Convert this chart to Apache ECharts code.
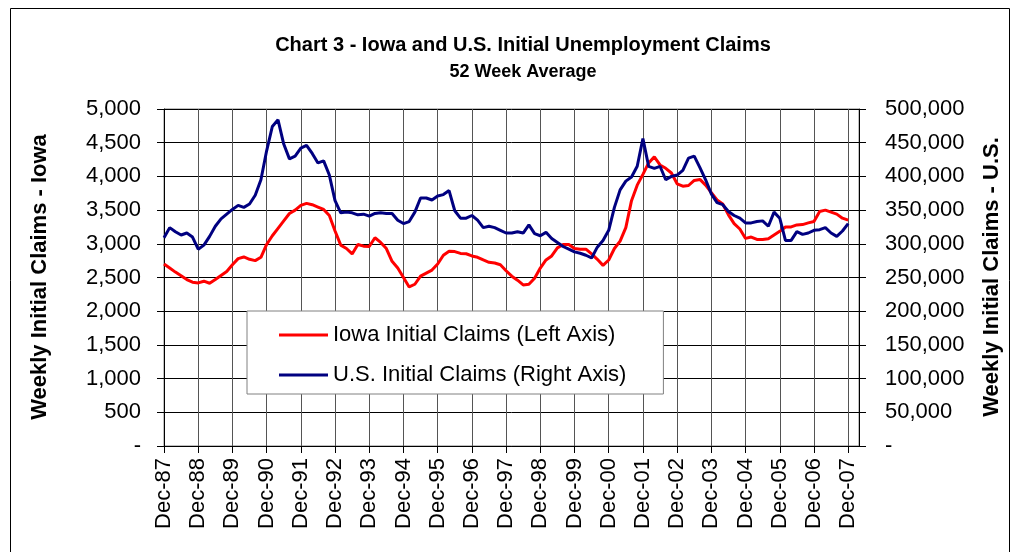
<!DOCTYPE html>
<html>
<head>
<meta charset="utf-8">
<title>Chart 3 - Iowa and U.S. Initial Unemployment Claims</title>
<script src="https://cdn.jsdelivr.net/npm/echarts@6/dist/echarts.min.js"></script>
<style>
  html, body { margin: 0; padding: 0; background: #fff; }
  #chart { width: 1019px; height: 552px; }
</style>
</head>
<body>
<div id="chart"></div>
<script>
// 52 week averages, every 2 months starting Dec-87
const monthStep = 2
const xLabels = ['Dec-87', 'Dec-88', 'Dec-89', 'Dec-90', 'Dec-91', 'Dec-92', 'Dec-93', 'Dec-94',
  'Dec-95', 'Dec-96', 'Dec-97', 'Dec-98', 'Dec-99', 'Dec-00', 'Dec-01', 'Dec-02', 'Dec-03',
  'Dec-04', 'Dec-05', 'Dec-06', 'Dec-07']

const iowaClaims = [
  2700, 2640, 2580, 2525, 2470, 2430, 2420, 2445, 2415, 2470, 2530, 2590,
  2690, 2780, 2805, 2770, 2750, 2800, 2990, 3120, 3230, 3340, 3450, 3500,
  3570, 3600, 3580, 3545, 3510, 3420, 3190, 2980, 2930, 2850, 2990, 2965,
  2960, 3090, 3020, 2930, 2740, 2640, 2500, 2360, 2400, 2520, 2565, 2610,
  2700, 2830, 2890, 2885, 2857, 2852, 2820, 2800, 2760, 2725, 2715, 2690,
  2600, 2520, 2460, 2390, 2400, 2490, 2640, 2760, 2820, 2940, 2990, 2990,
  2930, 2920, 2920, 2850, 2770, 2680, 2760, 2930, 3040, 3240, 3640, 3870,
  4030, 4200, 4290, 4170, 4120, 4050, 3890, 3855, 3865, 3940, 3955, 3870,
  3760, 3650, 3590, 3430, 3300, 3220, 3080, 3100, 3064, 3064, 3075, 3130,
  3185, 3250, 3250, 3280, 3285, 3310, 3330, 3480, 3500, 3470, 3440, 3380,
  3350
]

const usClaims = [
  309000, 324000, 318000, 313000, 316000, 310000, 292000, 298000, 311000, 326000, 337000, 344000,
  351000, 357000, 354000, 359000, 372000, 395000, 438000, 474000, 484000, 448000, 426000, 430000,
  442000, 446000, 434000, 420000, 423000, 402000, 364000, 346000, 347000, 346000, 343000, 344000,
  341000, 345000, 346000, 345000, 345000, 335000, 330000, 333000, 347000, 368000, 368000, 365000,
  371000, 373000, 379000, 349000, 338000, 338000, 342000, 335000, 324000, 326000, 324000, 320000,
  316000, 316000, 318000, 316000, 328000, 315000, 312000, 317000, 308000, 302000, 296000, 292000,
  288000, 286000, 283000, 279000, 295000, 305000, 320000, 354000, 380000, 393000, 399000, 415000,
  456000, 415000, 412000, 415000, 395000, 400000, 402000, 409000, 427000, 430000, 413000, 395000,
  374000, 361000, 358000, 348000, 342000, 338000, 331000, 331000, 333000, 334000, 326000, 347000,
  338000, 305000, 305000, 318000, 314000, 316000, 320000, 321000, 324000, 316000, 311000, 319000,
  330000
]

const FONT = 'Arial, "Liberation Sans", sans-serif'
const fmtNum = v => (v === 0 ? '-' : v.toLocaleString('en-US'))
const toPoints = arr => arr.map((v, i) => [i * monthStep, v])

const chart = echarts.init(document.getElementById('chart'))

chart.setOption({
  animation: false,
  backgroundColor: '#fff',
  textStyle: { fontFamily: FONT },
  grid: {
    left: 164, right: 160, top: 109, bottom: 106,
    show: true, borderColor: '#808080', borderWidth: 1
  },
  legend: {
    orient: 'vertical',
    left: 247, top: 311,
    padding: [13, 37, 8, 32],
    itemGap: 18,
    icon: 'rect',
    itemWidth: 49, itemHeight: 3,
    backgroundColor: '#fff',
    borderColor: '#808080', borderWidth: 1,
    textStyle: { fontFamily: FONT, fontSize: 22, color: '#000', lineHeight: 22 },
    data: ['Iowa Initial Claims (Left Axis)', 'U.S. Initial Claims (Right Axis)']
  },
  xAxis: {
    type: 'value',
    min: 0, max: 243.8, interval: 12,
    axisLine: { lineStyle: { color: '#000', width: 1 } },
    axisTick: { length: 7, lineStyle: { color: '#000' } },
    splitLine: { show: true, lineStyle: { color: '#555', width: 1 } },
    axisLabel: {
      rotate: 90, margin: 12, fontSize: 22, color: '#000', fontFamily: FONT,
      showMaxLabel: false,
      formatter: v => (v % 12 === 0 ? xLabels[v / 12] : '')
    }
  },
  yAxis: [
    {
      type: 'value', min: 0, max: 5000, interval: 500,
      axisLine: { show: true, lineStyle: { color: '#000' } },
      axisTick: { show: true, length: 7, lineStyle: { color: '#000' } },
      splitLine: { show: true, lineStyle: { color: '#000', width: 1 } },
      axisLabel: { margin: 23, fontSize: 22, color: '#000', fontFamily: FONT, formatter: fmtNum }
    },
    {
      type: 'value', min: 0, max: 500000, interval: 50000, position: 'right',
      axisLine: { show: true, lineStyle: { color: '#000' } },
      axisTick: { show: true, length: 7, lineStyle: { color: '#000' } },
      splitLine: { show: false },
      axisLabel: { margin: 26, fontSize: 22, color: '#000', fontFamily: FONT, formatter: fmtNum }
    }
  ],
  series: [
    {
      name: 'Iowa Initial Claims (Left Axis)',
      type: 'line', yAxisIndex: 0,
      data: toPoints(iowaClaims),
      symbol: 'none',
      lineStyle: { color: '#ff0000', width: 3 },
      itemStyle: { color: '#ff0000' }
    },
    {
      name: 'U.S. Initial Claims (Right Axis)',
      type: 'line', yAxisIndex: 1,
      data: toPoints(usClaims),
      symbol: 'none',
      lineStyle: { color: '#000080', width: 3 },
      itemStyle: { color: '#000080' }
    }
  ],
  graphic: [
    {
      type: 'rect', silent: true, z: -1,
      shape: { x: 10.5, y: 8.5, width: 999, height: 560 },
      style: { fill: 'none', stroke: '#000', lineWidth: 1 }
    },
    {
      type: 'text', x: 523, y: 45,
      style: { text: 'Chart 3 - Iowa and U.S. Initial Unemployment Claims', font: 'bold 20px ' + FONT, fill: '#000', align: 'center', verticalAlign: 'middle' }
    },
    {
      type: 'text', x: 523, y: 72,
      style: { text: '52 Week Average', font: 'bold 18px ' + FONT, fill: '#000', align: 'center', verticalAlign: 'middle' }
    },
    {
      type: 'text', x: 40, y: 277, rotation: Math.PI / 2,
      style: { text: 'Weekly Initial Claims - Iowa', font: 'bold 22px ' + FONT, fill: '#000', align: 'center', verticalAlign: 'middle' }
    },
    {
      type: 'text', x: 992, y: 277, rotation: Math.PI / 2,
      style: { text: 'Weekly Initial Claims - U.S.', font: 'bold 22px ' + FONT, fill: '#000', align: 'center', verticalAlign: 'middle' }
    }
  ]
})
</script>
</body>
</html>
